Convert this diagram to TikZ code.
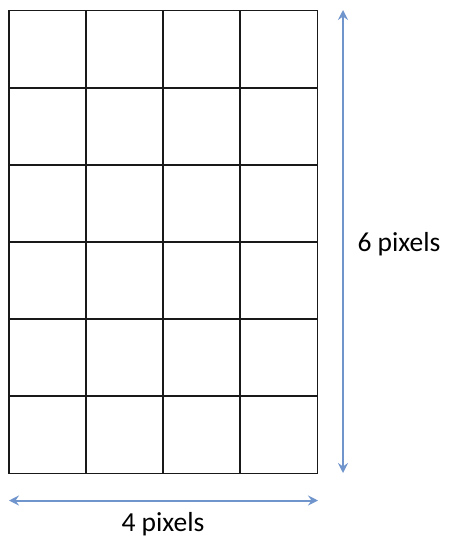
\documentclass[tikz,border=0pt]{standalone}
\usepackage{fontspec}
\setmainfont{Carlito}
\usetikzlibrary{arrows.meta}
\definecolor{arrowblue}{RGB}{112,148,204}
\begin{document}
\begin{tikzpicture}[x=1pt,y=-1pt,
  gridline/.style={draw=black!90, line width=1.8pt},
  dimarrow/.style={draw=arrowblue, line width=2pt, {Stealth[length=10pt,width=10pt,inset=3.5pt]}-{Stealth[length=10pt,width=10pt,inset=3.5pt]}},
  dimlabel/.style={font=\fontsize{27.5}{32}\selectfont, inner sep=0pt}]
\useasboundingbox (0,0) rectangle (448,537);
\foreach \i in {0,...,4} {
  \draw[gridline] ({9+\i*77.1},10.5) -- ({9+\i*77.1},473.5);
}
\foreach \j in {0,...,6} {
  \draw[gridline] (9,{10.5+\j*77.17}) -- (317.4,{10.5+\j*77.17});
}
\coordinate (vt) at (343,10);
\coordinate (vb) at (343,473);
\coordinate (hl) at (9,500.5);
\coordinate (hr) at (318,500.5);
\draw[dimarrow] (vt) -- (vb);
\draw[dimarrow] (hl) -- (hr);
\node[dimlabel] (six) at (399,244) {6 pixels};
\node[dimlabel] (four) at (163,524) {4 pixels};
\end{tikzpicture}
\end{document}
